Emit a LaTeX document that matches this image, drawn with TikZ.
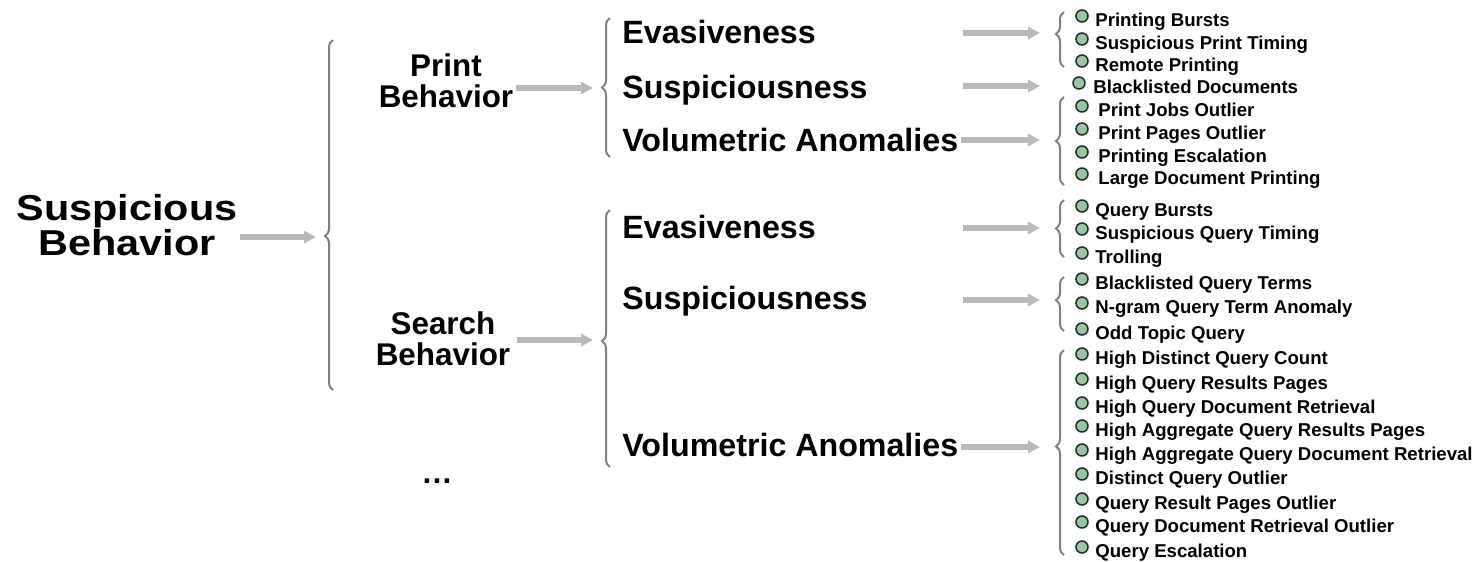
\documentclass[tikz,border=0pt]{standalone}
\usepackage{fontspec}
\setmainfont{Liberation Sans}
\newfontfamily\widefont[FakeStretch=1.15]{Liberation Sans}
\usetikzlibrary{arrows.meta,positioning,decorations.pathreplacing}

\definecolor{dotgreen}{RGB}{150,200,160}
\tikzset{
  arr/.style={-{Triangle[length=6pt,width=6pt]}, line width=2.6pt, draw=gray!55},
  brc/.style={decorate, decoration={brace, amplitude=4pt, aspect=#1}, draw=black!50, line width=1pt},
  brc/.default=0.5,
  root/.style={align=center, inner sep=1pt, font=\widefont\fontsize{18}{14.5}\selectfont\bfseries},
  beh/.style={align=center, inner sep=1pt, font=\fontsize{15.7}{15.7}\selectfont\bfseries},
  cat/.style={anchor=base west, inner sep=0pt, font=\fontsize{16.1}{18}\selectfont\bfseries},
  leaf/.style={anchor=base west, inner sep=0pt, font=\fontsize{9.3}{11}\selectfont\bfseries},
  dot/.style={circle, draw=black!85, fill=dotgreen, line width=0.75pt, minimum size=6pt, inner sep=0pt}
}

\begin{document}
\begin{tikzpicture}[x=0.5pt,y=-0.5pt]
  \useasboundingbox (0,0) rectangle (1480,562);

  % Root
  \node[root] (susp) at (127,225) {Suspicious\\Behavior};
  \coordinate (suspIn) at (316,237);
  \draw[arr] (susp.east |- suspIn) -- (suspIn);
  \draw[brc=0.44] (333,390) -- (333,40);

  % Print behavior
  \node[beh] (print) at (446,81) {Print\\Behavior};
  \coordinate (printIn) at (593,88);
  \draw[arr] (print.east |- printIn) -- (printIn);
  \draw[brc] (610,157) -- (610,18);

  \node[cat] (pEva) at (622,43.5) {Evasiveness};
  \node[cat] (pSus) at (622,98.5) {Suspiciousness};
  \node[cat] (pVol) at (622,151.5) {Volumetric Anomalies};

  \coordinate (pEvaOut) at (963,33);
  \coordinate (pEvaIn) at (1040,33);
  \coordinate (pSusOut) at (963,86);
  \coordinate (pSusIn) at (1040,86);
  \coordinate (pVolIn) at (1040,140);
  \draw[arr] (pEvaOut) -- (pEvaIn);
  \draw[arr] (pSusOut) -- (pSusIn);
  \draw[arr] (pVol.east |- pVolIn) ++(2,0) -- (pVolIn);
  \draw[brc=0.6] (1064,67) -- (1064,12);
  \draw[brc] (1064,185) -- (1064,97);

  % Search behavior
  \node[beh] (search) at (443,339) {Search\\Behavior};
  \coordinate (searchIn) at (593,340);
  \draw[arr] (search.east |- searchIn) ++(4,0) -- (searchIn);
  \draw[brc=0.49] (610,467) -- (610,210);

  \node[cat] (sEva) at (622,238.5) {Evasiveness};
  \node[cat] (sSus) at (622,309) {Suspiciousness};
  \node[cat] (sVol) at (622,456.5) {Volumetric Anomalies};

  \coordinate (sEvaOut) at (963,228);
  \coordinate (sEvaIn) at (1040,228);
  \coordinate (sSusOut) at (963,300);
  \coordinate (sSusIn) at (1040,300);
  \coordinate (sVolIn) at (1040,447);
  \draw[arr] (sEvaOut) -- (sEvaIn);
  \draw[arr] (sSusOut) -- (sSusIn);
  \draw[arr] (sVol.east |- sVolIn) ++(2,0) -- (sVolIn);
  \draw[brc] (1064,257) -- (1064,200);
  \draw[brc=0.57] (1064,331) -- (1064,277);
  \draw[brc=0.53] (1064,555) -- (1064,350);

  \node[beh] (more) at (437,481) {…};

  % Leaves
  \foreach \d/\x/\y/\t [count=\i] in {
    1082/1095/20/Printing Bursts,
    1082/1095/43/Suspicious Print Timing,
    1082/1095/65/Remote Printing,
    1079/1093/87/Blacklisted Documents,
    1082/1098/110/Print Jobs Outlier,
    1082/1098/133/Print Pages Outlier,
    1082/1098/156/Printing Escalation,
    1082/1098/178/Large Document Printing,
    1082/1095/210/Query Bursts,
    1082/1095/233/Suspicious Query Timing,
    1082/1095/257/Trolling,
    1082/1095/283/Blacklisted Query Terms,
    1082/1095/307/N-gram Query Term Anomaly,
    1082/1095/333/Odd Topic Query,
    1082/1095/358/High Distinct Query Count,
    1082/1095/383/High Query Results Pages,
    1082/1095/407/High Query Document Retrieval,
    1082/1095/430/High Aggregate Query Results Pages,
    1082/1095/454/High Aggregate Query Document Retrieval,
    1082/1095/478/Distinct Query Outlier,
    1082/1095/503/Query Result Pages Outlier,
    1082/1095/526/Query Document Retrieval Outlier,
    1082/1095/551/Query Escalation} {
    \node[dot] (d\i) at (\d,\y-4) {};
    \node[leaf] (l\i) at (\x,\y+6.5) {\t};
  }
\end{tikzpicture}
\end{document}
